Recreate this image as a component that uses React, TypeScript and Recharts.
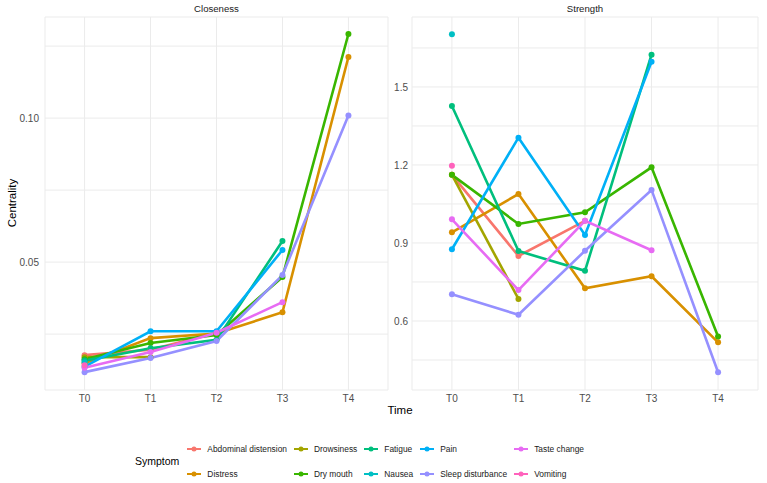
import React from "react";
import { LineChart, Line, XAxis, YAxis, CartesianGrid } from "recharts";

const times = ["T0", "T1", "T2", "T3", "T4"];
const symptoms = [
  "Abdominal distension",
  "Distress",
  "Drowsiness",
  "Dry mouth",
  "Fatigue",
  "Nausea",
  "Pain",
  "Sleep disturbance",
  "Taste change",
  "Vomiting",
];
const colors = [
  "#F8766D",
  "#D89000",
  "#A3A500",
  "#39B600",
  "#00BF7D",
  "#00BFC4",
  "#00B0F6",
  "#9590FF",
  "#E76BF3",
  "#FF62BC",
];

// values per symptom (same order as symptoms), per time T0..T4
const closenessValues: (number | null)[][] = [
  [0.0177, 0.0196, 0.0255, null, null],
  [0.0149, 0.0236, 0.0252, 0.0326, 0.1212],
  [0.0170, 0.0170, null, null, null],
  [0.0163, 0.0219, 0.0247, 0.0448, 0.1292],
  [0.0158, 0.0201, 0.0230, 0.0573, null],
  [0.0152, null, null, null, null],
  [0.0137, 0.0260, 0.0260, 0.0542, null],
  [0.0118, 0.0167, 0.0226, 0.0455, 0.1009],
  [0.0133, 0.0188, 0.0255, 0.0361, null],
  [0.0142, null, null, null, null],
];
const strengthValues: (number | null)[][] = [
  [1.162, 0.850, 0.985, null, null],
  [0.941, 1.088, 0.726, 0.772, 0.518],
  [1.162, 0.685, null, null, null],
  [1.162, 0.973, 1.018, 1.191, 0.540],
  [1.427, 0.869, 0.793, 1.624, null],
  [1.703, null, null, null, null],
  [0.876, 1.305, 0.931, 1.597, null],
  [0.703, 0.624, 0.870, 1.104, 0.403],
  [0.991, 0.719, 0.985, 0.872, null],
  [1.197, null, null, null, null],
];

const closenessTicks = [0.025, 0.05, 0.075, 0.1, 0.125];
const closenessLabels = [0.05, 0.1];
const strengthTicks = [0.45, 0.6, 0.75, 0.9, 1.05, 1.2, 1.35, 1.5, 1.65];
const strengthLabels = [0.6, 0.9, 1.2, 1.5];

const FONT = "'Liberation Sans', Arial, sans-serif";

function buildRows(values: (number | null)[][]) {
  return times.map((_, i) => {
    const row: Record<string, number | null> = { x: i };
    symptoms.forEach((s, k) => {
      row[s] = values[k][i];
    });
    return row;
  });
}

function Panel(props: {
  values: (number | null)[][];
  width: number;
  yWidth: number;
  right: number;
  domain: [number, number];
  ticks: number[];
  labels: number[];
  fmt: (v: number) => string;
  tickSize: number;
}) {
  const rows = buildRows(props.values);
  return (
    <LineChart
      width={props.width}
      height={483}
      data={rows}
      margin={{ top: 17, right: props.right, left: 0, bottom: 0 }}
    >
      <CartesianGrid stroke="#ebebeb" strokeWidth={1} />
      <XAxis
        dataKey="x"
        type="number"
        domain={[-0.6, 4.6]}
        ticks={[0, 1, 2, 3, 4]}
        allowDataOverflow
        tickFormatter={(v: number) => times[v]}
        axisLine={false}
        tickLine={false}
        tickSize={3}
        tickMargin={2}
        height={93}
        interval={0}
        tick={{ fontSize: 10, fill: "#4d4d4d", fontFamily: FONT }}
      />
      <YAxis
        type="number"
        domain={props.domain}
        ticks={props.ticks}
        allowDataOverflow
        interval={0}
        tickFormatter={(v: number) =>
          props.labels.some((l) => Math.abs(l - v) < 1e-9) ? props.fmt(v) : ""
        }
        axisLine={false}
        tickLine={false}
        tickSize={props.tickSize}
        tickMargin={2}
        width={props.yWidth}
        tick={{ fontSize: 10, fill: "#4d4d4d", fontFamily: FONT }}
      />
      {symptoms.map((s, k) => (
        <Line
          key={s}
          type="linear"
          dataKey={s}
          stroke={colors[k]}
          strokeWidth={2.6}
          dot={{ r: 3, fill: colors[k], stroke: colors[k], strokeWidth: 0 }}
          activeDot={false}
          connectNulls={false}
          isAnimationActive={false}
        />
      ))}
    </LineChart>
  );
}

function LegendKey({ color }: { color: string }) {
  return (
    <svg width={14} height={10} style={{ display: "block" }}>
      <line x1={0} y1={5} x2={14} y2={5} stroke={color} strokeWidth={2} />
      <circle cx={7} cy={5} r={2.5} fill={color} />
    </svg>
  );
}

export default function App() {
  return (
    <div
      style={{
        position: "absolute",
        left: 0,
        top: 0,
        width: 767,
        height: 483,
        background: "#ffffff",
        fontFamily: FONT,
        overflow: "hidden",
      }}
    >
      <div style={{ position: "absolute", left: 0, top: 0 }}>
        <Panel
          values={closenessValues}
          width={390}
          yWidth={45}
          right={2}
          domain={[0.0056, 0.1351]}
          ticks={closenessTicks}
          labels={closenessLabels}
          fmt={(v) => v.toFixed(2)}
          tickSize={4}
        />
      </div>
      <div style={{ position: "absolute", left: 390, top: 0 }}>
        <Panel
          values={strengthValues}
          width={377}
          yWidth={22}
          right={9}
          domain={[0.3346, 1.769]}
          ticks={strengthTicks}
          labels={strengthLabels}
          fmt={(v) => v.toFixed(1)}
          tickSize={2}
        />
      </div>
      <div
        style={{
          position: "absolute",
          left: 45,
          width: 343,
          top: 3,
          textAlign: "center",
          fontSize: 9.6,
          color: "#1a1a1a",
        }}
      >
        Closeness
      </div>
      <div
        style={{
          position: "absolute",
          left: 412,
          width: 346,
          top: 3,
          textAlign: "center",
          fontSize: 9.6,
          color: "#1a1a1a",
        }}
      >
        Strength
      </div>
      <div
        style={{
          position: "absolute",
          left: 350,
          width: 100,
          top: 404,
          textAlign: "center",
          fontSize: 11.5,
          color: "#000",
        }}
      >
        Time
      </div>
      <div
        style={{
          position: "absolute",
          left: 12,
          top: 203,
          transform: "translate(-50%, -50%) rotate(-90deg)",
          fontSize: 11.5,
          color: "#000",
          whiteSpace: "nowrap",
        }}
      >
        Centrality
      </div>
      <div
        style={{
          position: "absolute",
          left: 135,
          top: 436,
          display: "flex",
          alignItems: "center",
        }}
      >
        <div style={{ fontSize: 10.5, color: "#000", marginRight: 8 }}>
          Symptom
        </div>
        <div
          style={{
            display: "grid",
            gridAutoFlow: "column",
            gridTemplateRows: "repeat(2, 25px)",
            columnGap: 7,
          }}
        >
          {symptoms.map((s, k) => (
            <div
              key={s}
              style={{ display: "flex", alignItems: "center", whiteSpace: "nowrap" }}
            >
              <LegendKey color={colors[k]} />
              <span style={{ marginLeft: 6, fontSize: 8.4, color: "#1a1a1a" }}>
                {s}
              </span>
            </div>
          ))}
        </div>
      </div>
    </div>
  );
}
